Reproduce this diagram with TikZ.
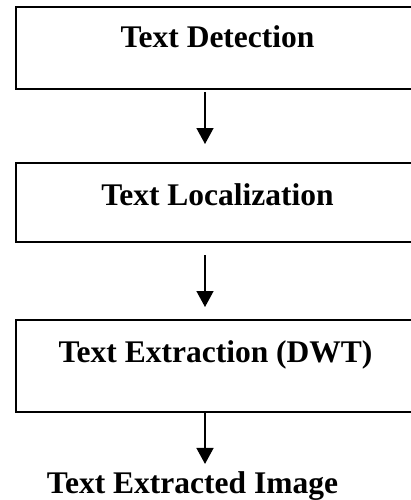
\documentclass[tikz,border=0pt]{standalone}
\usepackage{fontspec}
\setmainfont{Liberation Serif}
\usetikzlibrary{arrows.meta}
\begin{document}
\begin{tikzpicture}[x=1pt,y=-1pt,
  stagebox/.style={draw, line width=1.8pt, minimum width=404pt, inner sep=0pt, outer sep=0pt},
  lbl/.style={font=\bfseries\fontsize{31.5}{36}\selectfont, inner sep=0pt, anchor=base},
  arr/.style={line width=1.5pt, -{Triangle[width=17pt,length=16pt]}}]
\useasboundingbox (0,0) rectangle (411,500);
\clip (0,0) rectangle (411,500);
\node[stagebox, minimum height=82pt] (b1) at (218,48) {};
\node[stagebox, minimum height=79pt] (b2) at (218,202.5) {};
\node[stagebox, minimum height=92pt] (b3) at (218,366) {};
\node[lbl] (t1) at (217.5,48) {Text Detection};
\node[lbl] (t2) at (217.5,205) {Text Localization};
\node[lbl] (t3) at (215.5,362) {Text Extraction (DWT)};
\node[lbl] (t4) at (192.5,493) {Text Extracted Image};
\draw[arr] ([xshift=-13pt,yshift=-3pt]b1.south) -- ([xshift=-13pt,yshift=19pt]b2.north);
\draw[arr] ([xshift=-13pt,yshift=-13pt]b2.south) -- ([xshift=-13pt,yshift=13pt]b3.north);
\draw[arr] ([xshift=-13pt]b3.south) -- ([xshift=12.5pt,yshift=7pt]t4.north);
\end{tikzpicture}
\end{document}
